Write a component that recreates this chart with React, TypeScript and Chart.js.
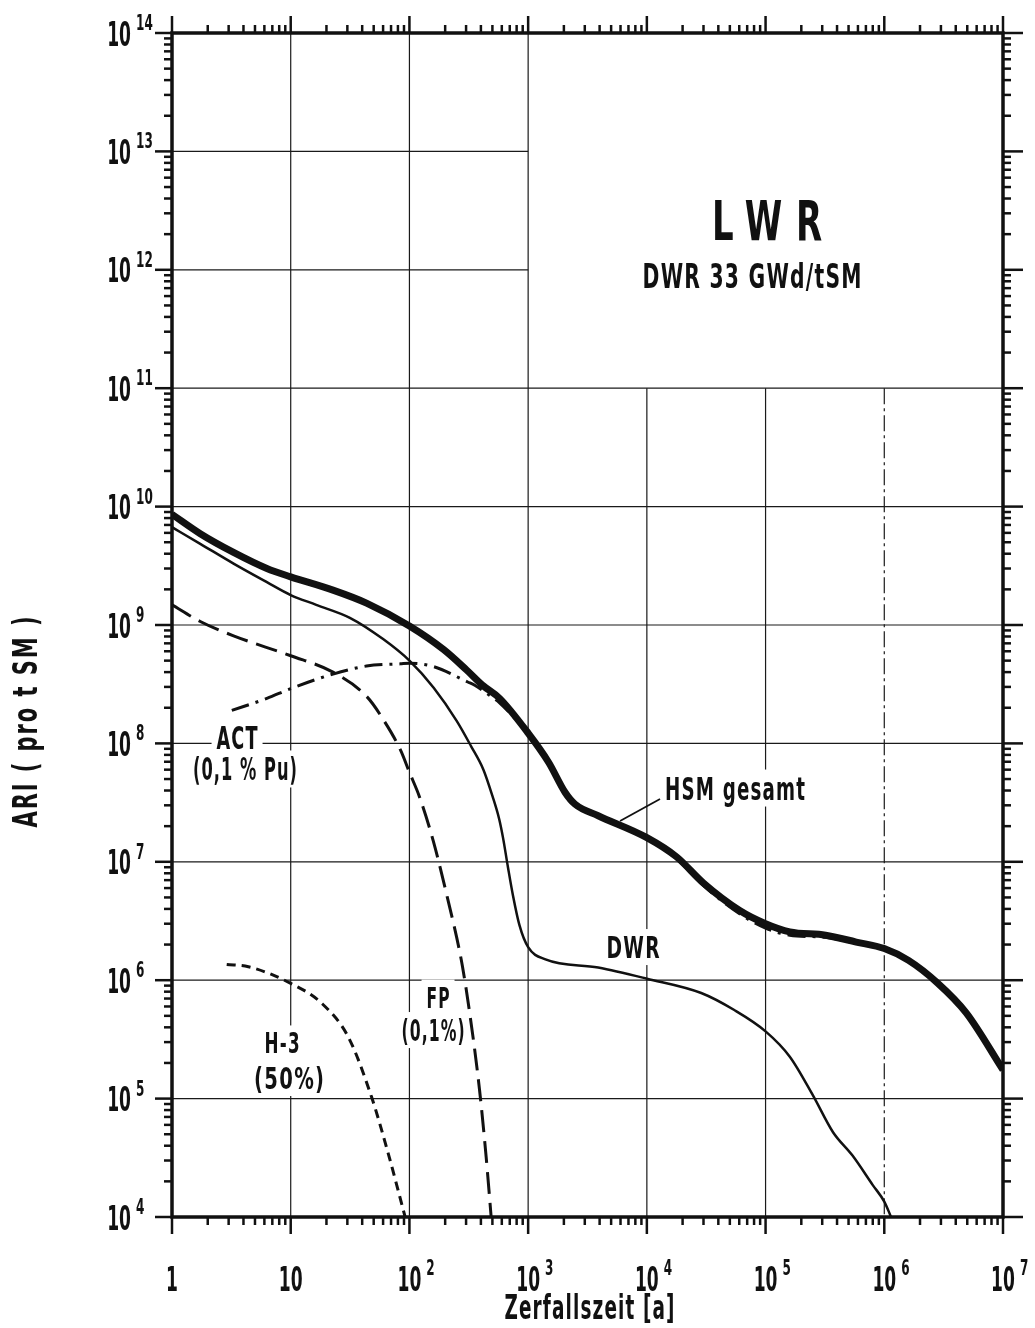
import React, { useEffect, useRef } from 'react';
import { Chart, registerables } from 'chart.js';

Chart.register(...registerables);

// ---- axes ----
const xDecades = [1, 10, 100, 1e3, 1e4, 1e5, 1e6, 1e7];
const xTickBase = ['1', '10', '10', '10', '10', '10', '10', '10'];
const xTickExp = ['', '', '2', '3', '4', '5', '6', '7'];
const yDecades = [1e4, 1e5, 1e6, 1e7, 1e8, 1e9, 1e10, 1e11, 1e12, 1e13, 1e14];
const yTickBase = ['10', '10', '10', '10', '10', '10', '10', '10', '10', '10', '10'];
const yTickExp = ['4', '5', '6', '7', '8', '9', '10', '11', '12', '13', '14'];

// ---- series (Zerfallszeit [a] -> ARI pro t SM) ----
const hsmX = [1, 1.73, 3.3, 6.3, 10, 22.7, 43.5, 100, 194, 303, 418, 575, 1000, 1490, 2050, 2480, 3890, 1e4, 1.78e4, 3e4, 6e4, 1e5, 1.6e5, 3.2e5, 5.8e5, 1e6, 1.6e6, 2.8e6, 4.9e6, 1e7];
const hsmY = [8.6e9, 5.9e9, 4.1e9, 3.0e9, 2.55e9, 1.97e9, 1.53e9, 9.8e8, 6.2e8, 4.17e8, 3.07e8, 2.4e8, 1.22e8, 6.9e7, 3.85e7, 3.07e7, 2.45e7, 1.6e7, 1.1e7, 6.6e6, 3.9e6, 3.0e6, 2.56e6, 2.4e6, 2.1e6, 1.85e6, 1.47e6, 9.5e5, 5.3e5, 1.75e5];

const dwrX = [1, 1.73, 3.3, 6.3, 10, 16.4, 31.5, 60, 100, 160, 250, 330, 420, 500, 570, 614, 676, 745, 846, 1000, 1400, 3890, 1e4, 2.87e4, 5.45e4, 1e5, 1.6e5, 2.5e5, 3.7e5, 5.4e5, 8e5, 1e6, 1.14e6];
const dwrY = [6.7e9, 4.85e9, 3.3e9, 2.3e9, 1.79e9, 1.48e9, 1.15e9, 7.6e8, 5.0e8, 2.95e8, 1.55e8, 9.5e7, 6e7, 3.6e7, 2.3e7, 1.6e7, 9e6, 5.2e6, 2.9e6, 1.9e6, 1.5e6, 1.28e6, 1.03e6, 7.8e5, 5.6e5, 3.7e5, 2.26e5, 1.07e5, 5.2e4, 3.3e4, 1.86e4, 1.35e4, 1e4];

const actX = [3.19, 6.3, 10, 22.7, 43.5, 84, 100, 160, 310, 355, 485, 575, 1000, 1490, 2050, 2480, 3890, 1e4, 1.78e4, 3e4, 6e4, 1e5, 1.6e5, 3.2e5, 5.8e5, 1e6, 1.6e6, 2.8e6, 4.9e6, 1e7];
const actY = [1.9e8, 2.4e8, 2.9e8, 3.85e8, 4.5e8, 4.7e8, 4.75e8, 4.45e8, 3.3e8, 3.1e8, 2.5e8, 2.2e8, 1.2e8, 6.8e7, 3.75e7, 3.0e7, 2.4e7, 1.56e7, 1.06e7, 6.3e6, 3.65e6, 2.75e6, 2.4e6, 2.3e6, 2.05e6, 1.84e6, 1.46e6, 9.3e5, 5.3e5, 1.75e5];

const fpX = [1, 1.73, 3.3, 10, 22.7, 43.5, 60, 84, 100, 122, 160, 220, 250, 280, 320, 389, 443, 488];
const fpY = [1.48e9, 1.07e9, 8.1e8, 5.5e8, 4.0e8, 2.5e8, 1.6e8, 8.8e7, 5.7e7, 3.5e7, 1.46e7, 4e6, 2.3e6, 1.3e6, 5.5e5, 1.2e5, 3.2e4, 1e4];

const h3X = [2.89, 4.4, 10, 18.2, 30.6, 48, 66.5, 92];
const h3Y = [1.36e6, 1.3e6, 9.4e5, 6.4e5, 3.3e5, 1.03e5, 3.4e4, 1e4];

// ---- annotations (log10 of data coordinates) ----
const labelTexts = ['LWR', 'DWR 33 GWd/tSM', 'ACT', '(0,1 % Pu)', 'HSM gesamt', 'DWR', 'FP', '(0,1%)', 'H-3', '(50%)'];
const labelLogX = [5.013, 4.886, 0.548, 0.615, 4.153, 3.884, 2.241, 2.199, 0.927, 0.986];
const labelLogY = [12.42, 11.948, 8.054, 7.784, 7.623, 6.28, 5.858, 5.579, 5.47, 5.174];
const labelCap = [40, 24, 23, 23, 23, 22, 21, 22, 21, 22];
const labelWidth = [110, 219, 41, 104, 140, 53, 23, 63, 35, 70];
const labelAlign = ['center', 'center', 'center', 'center', 'left', 'center', 'center', 'center', 'center', 'center'];
const labelBox = [false, false, true, true, true, true, true, true, true, true];
const leaderLogX = [4.111, 3.774];
const leaderLogY = [7.53, 7.345];

const xTitle = 'Zerfallszeit [a]';
const yTitle = 'ARI ( pro t SM )';

const FONT = '"DejaVu Sans", "Liberation Sans", sans-serif';
const INK = '#111';

function zip(xs: number[], ys: number[]) {
  return xs.map((x, i) => ({ x, y: ys[i] }));
}

function drawFit(ctx: CanvasRenderingContext2D, text: string, x: number, capCy: number, capH: number, width: number, align: string, spacing = 0) {
  const size = capH / 0.73;
  ctx.save();
  ctx.font = `bold ${size}px ${FONT}`;
  (ctx as any).letterSpacing = spacing + 'px';
  let m = ctx.measureText(text).width;
  if (spacing) m -= spacing;
  const sx = width / m;
  const left = align === 'center' ? x - width / 2 : align === 'right' ? x - width : x;
  ctx.translate(left, capCy + capH / 2);
  ctx.scale(sx, 1);
  ctx.textAlign = 'left';
  ctx.textBaseline = 'alphabetic';
  ctx.fillStyle = INK;
  ctx.fillText(text, 0, 0);
  ctx.restore();
}

function drawScaled(ctx: CanvasRenderingContext2D, text: string, x: number, capCy: number, capH: number, sx: number, align: string) {
  const size = capH / 0.73;
  ctx.save();
  ctx.font = `bold ${size}px ${FONT}`;
  const w = ctx.measureText(text).width * sx;
  const left = align === 'center' ? x - w / 2 : align === 'right' ? x - w : x;
  ctx.translate(left, capCy + capH / 2);
  ctx.scale(sx, 1);
  ctx.textAlign = 'left';
  ctx.textBaseline = 'alphabetic';
  ctx.fillStyle = INK;
  ctx.fillText(text, 0, 0);
  ctx.restore();
  return w;
}

function seg(ctx: CanvasRenderingContext2D, x1: number, y1: number, x2: number, y2: number) {
  ctx.beginPath();
  ctx.moveTo(x1, y1);
  ctx.lineTo(x2, y2);
  ctx.stroke();
}

const decor = {
  id: 'decor',
  beforeDatasetsDraw(chart: any) {
    const { ctx, chartArea: a } = chart;
    const xs = chart.scales.x;
    const ys = chart.scales.y;
    ctx.save();
    ctx.strokeStyle = '#1a1a1a';
    ctx.lineWidth = 1.2;
    const x1e3 = xs.getPixelForValue(1e3);
    const y1e11 = ys.getPixelForValue(1e11);
    for (const v of xDecades.slice(1, -1)) {
      const px = xs.getPixelForValue(v);
      const top = v > 1e3 ? y1e11 : a.top;
      ctx.setLineDash(v === 1e6 ? [16, 4, 3, 4] : []);
      seg(ctx, px, top, px, a.bottom);
    }
    ctx.setLineDash([]);
    for (const v of yDecades.slice(1, -1)) {
      const py = ys.getPixelForValue(v);
      const right = v > 1e11 ? x1e3 : a.right;
      seg(ctx, a.left, py, right, py);
    }
    // white backgrounds behind annotations
    ctx.fillStyle = '#fff';
    labelTexts.forEach((t, i) => {
      if (!labelBox[i]) return;
      const px = xs.getPixelForValue(Math.pow(10, labelLogX[i]));
      const py = ys.getPixelForValue(Math.pow(10, labelLogY[i]));
      const w = labelWidth[i];
      const h = labelCap[i];
      const left = labelAlign[i] === 'center' ? px - w / 2 : px;
      ctx.fillRect(left - 5, py - h / 2 - 7, w + 10, h + 14);
    });
    ctx.restore();
  },
  afterDraw(chart: any) {
    const { ctx, chartArea: a } = chart;
    const xs = chart.scales.x;
    const ys = chart.scales.y;
    ctx.save();
    ctx.strokeStyle = INK;
    // frame
    ctx.lineWidth = 3.5;
    ctx.strokeRect(a.left, a.top, a.right - a.left, a.bottom - a.top);
    // ticks
    ctx.lineWidth = 2.5;
    const minorLen = 8;
    const majorLen = 17;
    xDecades.forEach((d, i) => {
      const px = xs.getPixelForValue(d);
      seg(ctx, px, a.bottom, px, a.bottom + majorLen);
      seg(ctx, px, a.top, px, a.top - majorLen);
      if (i < xDecades.length - 1) {
        for (let m = 2; m <= 9; m++) {
          const p = xs.getPixelForValue(d * m);
          seg(ctx, p, a.bottom, p, a.bottom + minorLen);
          seg(ctx, p, a.top, p, a.top - minorLen);
        }
      }
    });
    yDecades.forEach((d, i) => {
      const py = ys.getPixelForValue(d);
      seg(ctx, a.left, py, a.left - majorLen, py);
      seg(ctx, a.right, py, a.right + majorLen + 3, py);
      if (i < yDecades.length - 1) {
        for (let m = 2; m <= 9; m++) {
          const p = ys.getPixelForValue(d * m);
          seg(ctx, a.left, p, a.left - minorLen, p);
          seg(ctx, a.right, p, a.right + minorLen, p);
        }
      }
    });
    // tick labels
    const baseCap = 25;
    const supCap = 16;
    const baseSx = 0.5;
    const supSx = 0.55;
    xDecades.forEach((d, i) => {
      const px = xs.getPixelForValue(d);
      const cy = a.bottom + 61;
      const w = drawScaled(ctx, xTickBase[i], px, cy, baseCap, baseSx, 'center');
      if (xTickExp[i]) {
        drawScaled(ctx, xTickExp[i], px + w / 2 + 5, cy - 11, supCap, supSx, 'left');
      }
    });
    yDecades.forEach((d, i) => {
      const py = ys.getPixelForValue(d);
      drawScaled(ctx, yTickBase[i], a.left - 41, py, baseCap, baseSx, 'right');
      drawScaled(ctx, yTickExp[i], a.left - 36, py - 11, supCap, supSx, 'left');
    });
    // axis titles
    drawFit(ctx, xTitle, (a.left + a.right) / 2 + 2, a.bottom + 90, 24, 170, 'center', 2);
    ctx.save();
    ctx.translate(a.left - 147, (a.top + a.bottom) / 2 + 97);
    ctx.rotate(-Math.PI / 2);
    drawFit(ctx, yTitle, 0, 0, 24, 211, 'center', 3);
    ctx.restore();
    // annotations
    labelTexts.forEach((t, i) => {
      const px = xs.getPixelForValue(Math.pow(10, labelLogX[i]));
      const py = ys.getPixelForValue(Math.pow(10, labelLogY[i]));
      drawFit(ctx, t, px, py, labelCap[i], labelWidth[i], labelAlign[i], i === 0 ? 22 : 2);
    });
    ctx.lineWidth = 1.8;
    seg(ctx,
      xs.getPixelForValue(Math.pow(10, leaderLogX[0])), ys.getPixelForValue(Math.pow(10, leaderLogY[0])),
      xs.getPixelForValue(Math.pow(10, leaderLogX[1])), ys.getPixelForValue(Math.pow(10, leaderLogY[1])));
    ctx.restore();
  },
};

export default function App() {
  const ref = useRef<HTMLCanvasElement | null>(null);
  useEffect(() => {
    if (!ref.current) return;
    const base = { borderColor: INK, pointRadius: 0, fill: false, cubicInterpolationMode: 'monotone' as const, borderCapStyle: 'butt' as const, borderJoinStyle: 'round' as const };
    const chart = new Chart(ref.current, {
      type: 'line',
      data: {
        datasets: [
          { ...base, label: 'ACT (0,1 % Pu)', data: zip(actX, actY), borderWidth: 3, borderDash: [18, 7, 3, 7] },
          { ...base, label: 'FP (0,1%)', data: zip(fpX, fpY), borderWidth: 3, borderDash: [22, 9] },
          { ...base, label: 'H-3 (50%)', data: zip(h3X, h3Y), borderWidth: 3, borderDash: [9, 6] },
          { ...base, label: 'DWR', data: zip(dwrX, dwrY), borderWidth: 2.5 },
          { ...base, label: 'HSM gesamt', data: zip(hsmX, hsmY), borderWidth: 7 },
        ],
      },
      options: {
        responsive: false,
        animation: false,
        events: [],
        layout: { padding: { left: 172, right: 32, top: 33, bottom: 111 } },
        plugins: { legend: { display: false }, tooltip: { enabled: false } },
        scales: {
          x: {
            type: 'logarithmic', min: 1, max: 1e7,
            ticks: { display: false }, grid: { display: false }, border: { display: false },
            afterFit: (s: any) => { s.height = 0; },
          },
          y: {
            type: 'logarithmic', min: 1e4, max: 1e14,
            ticks: { display: false }, grid: { display: false }, border: { display: false },
            afterFit: (s: any) => { s.width = 0; },
          },
        },
      },
      plugins: [decor],
    } as any);
    return () => chart.destroy();
  }, []);
  return (
    <div style={{ position: 'absolute', left: 0, top: 0, width: 1035, height: 1328, background: '#fff' }}>
      <canvas ref={ref} width={1035} height={1328} style={{ display: 'block', width: 1035, height: 1328 }} />
    </div>
  );
}
